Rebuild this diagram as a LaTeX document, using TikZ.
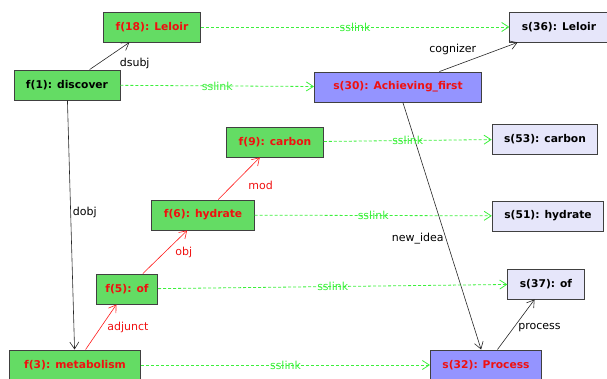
\documentclass[tikz,border=0pt]{standalone}
\usepackage{fontspec}
\setmainfont{DejaVu Sans}
\usetikzlibrary{arrows.meta}

\tikzset{
  box/.style={draw=black!75, line width=0.9pt, minimum height=30pt, inner xsep=12pt,
    font=\fontsize{10.7}{12}\selectfont\bfseries},
  fbox/.style={box, fill=fgreen},
  sbox/.style={box, fill=sblue},
  lbox/.style={box, fill=slav},
  lbl/.style={font=\fontsize{11}{12}\selectfont, inner sep=2pt},
  dep/.style={->, >={Straight Barb[length=7pt,width=9pt]}, line width=0.6pt, draw=black!85},
  fdep/.style={dep, draw=red!90!white},
  sslink/.style={->, >={Straight Barb[length=7pt,width=9pt]}, line width=0.8pt, draw=lgreen,
    dash pattern=on 3pt off 2pt}
}

\begin{document}
\begin{tikzpicture}[x=1pt, y=-1pt]
        % Define the colors
        \definecolor{fgreen}{HTML}{64DC64}
        \definecolor{sblue}{HTML}{9494FF}
        \definecolor{slav}{HTML}{E6E6FA}
        \definecolor{lgreen}{HTML}{3CF03C}
        \definecolor{rtext}{HTML}{F01010}

        \useasboundingbox (0,0) rectangle (607,379);

        % Draw the f boxes (left side)
        \node[fbox, text=rtext] (fLeloir) at (152,27) {f(18): Leloir};
        \node[fbox] (fDiscover) at (67,85) {f(1): discover};
        \node[fbox, text=rtext] (fCarbon) at (275,142) {f(9): carbon};
        \node[fbox, text=rtext] (fHydrate) at (203,215) {f(6): hydrate};
        \node[fbox, text=rtext, inner xsep=9pt] (fOf) at (127,289) {f(5): of};
        \node[fbox, text=rtext, minimum width=131pt] (fMetab) at (75,365) {f(3): metabolism};

        % Draw the s boxes (right side)
        \node[lbox] (sLeloir) at (559,27) {s(36): Leloir};
        \node[sbox, text=rtext, minimum width=167pt] (sAchiev) at (398,87) {s(30): Achieving\_first};
        \node[lbox] (sCarbon) at (545,139) {s(53): carbon};
        \node[lbox] (sHydrate) at (548,216) {s(51): hydrate};
        \node[lbox] (sOf) at (546,284) {s(37): of};
        \node[sbox, text=rtext] (sProcess) at (486,365) {s(32): Process};

        % Draw the dependency arrows between f boxes
        \draw[dep] (fDiscover) -- node[lbl, midway, below right, xshift=8pt] {dsubj} (fLeloir);
        \draw[dep] (fDiscover) -- node[lbl, pos=0.45, right] {dobj} (fMetab);
        \draw[fdep] (fMetab) -- node[lbl, text=rtext, midway, right, xshift=4pt] {adjunct} (fOf);
        \draw[fdep] (fOf) -- node[lbl, text=rtext, midway, right, xshift=8pt] {obj} (fHydrate);
        \draw[fdep] (fHydrate) -- node[lbl, text=rtext, midway, below right, xshift=7pt] {mod} (fCarbon);

        % Draw the arrows between s boxes
        \draw[dep] (sAchiev) -- node[lbl, midway, above left] {cognizer} (sLeloir);
        \draw[dep] (sAchiev) -- node[lbl, pos=0.55, left] {new\_idea} (sProcess);
        \draw[dep] (sProcess) -- node[lbl, midway, right, yshift=-3pt] {process} (sOf);

        % Draw the sslink arrows from f to s
        \draw[sslink] (fLeloir) -- node[lbl, text=lgreen, midway] {sslink} (sLeloir);
        \draw[sslink] (fDiscover) -- node[lbl, text=lgreen, midway] {sslink} (sAchiev);
        \draw[sslink] (fCarbon) -- node[lbl, text=lgreen, midway] {sslink} (sCarbon);
        \draw[sslink] (fHydrate) -- node[lbl, text=lgreen, midway] {sslink} (sHydrate);
        \draw[sslink] (fOf) -- node[lbl, text=lgreen, midway] {sslink} (sOf);
        \draw[sslink] (fMetab) -- node[lbl, text=lgreen, midway] {sslink} (sProcess);
\end{tikzpicture}
\end{document}
